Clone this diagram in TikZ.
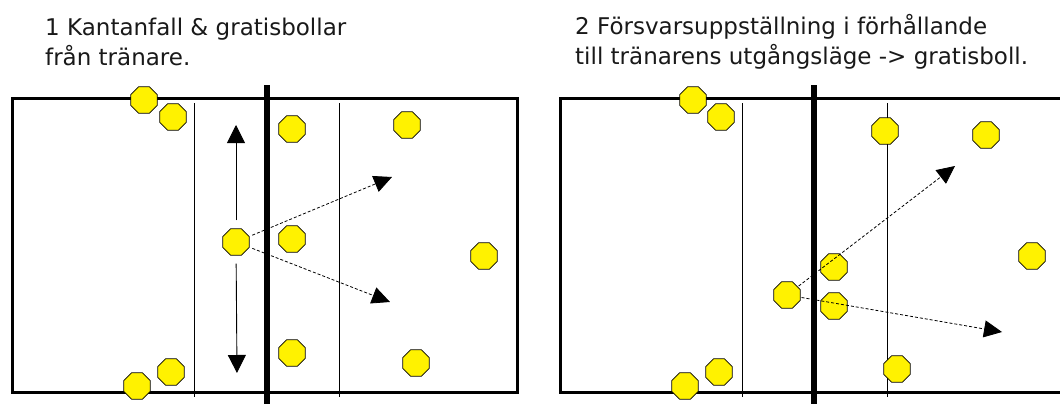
\documentclass[tikz,border=0pt]{standalone}
\usepackage{fontspec}
\setmainfont{DejaVu Sans}
\usetikzlibrary{shapes.geometric,arrows.meta}
\tikzset{
  player/.style={regular polygon, regular polygon sides=8, minimum size=28.5pt, inner sep=0pt,
    fill=yellow, draw=black, line width=0.8pt},
  court/.style={draw=black, line width=3pt},
  netline/.style={draw=black, line width=6pt},
  attline/.style={draw=black, line width=0.9pt},
  arr/.style={draw=black, line width=0.9pt, -{Triangle[length=18pt,width=18pt]}},
  darr/.style={draw=black, line width=0.8pt, densely dashed, -{Triangle[length=18pt,width=17pt]}},
  title/.style={anchor=base west, inner sep=0pt, font=\fontsize{23}{26}\selectfont, text=black!90}
}
\begin{document}
\begin{tikzpicture}[x=1pt,y=-1pt]
\useasboundingbox (0,0) rectangle (1060,404);
\clip (0,0) rectangle (1060,404);
\fill[white] (0,0) rectangle (1060,404);
% titles
\node[title] (t1a) at (45,36) {1 Kantanfall \& gratisbollar};
\node[title] (t1b) at (45,66) {från tränare.};
\node[title] (t2a) at (575,35) {2 Försvarsuppställning i förhållande};
\node[title] (t2b) at (575,65) {till tränarens utgångsläge -> gratisboll.};
% court 1
\draw[court] (12,98) rectangle (517,392);
\draw[attline] (194,103) -- (194,397);
\draw[attline] (339,103) -- (339,397);
\draw[netline] (267,85) -- (267,404);
% court 2
\draw[court] (560,98) rectangle (1080,392);
\draw[attline] (742,103) -- (742,397);
\draw[attline] (887,103) -- (887,397);
\draw[netline] (814,85) -- (814,404);
% players court 1
\node[player] (a1) at (144,100) {};
\node[player] (a2) at (173,117) {};
\node[player] (a3) at (292,129) {};
\node[player] (a4) at (407,125) {};
\node[player] (c1) at (236,242) {};
\node[player] (a5) at (292,239) {};
\node[player] (a6) at (484,256) {};
\node[player] (a7) at (292,353) {};
\node[player] (a8) at (416,363) {};
\node[player] (a9) at (171,372) {};
\node[player] (a10) at (137,386) {};
% players court 2
\node[player] (b1) at (693,100) {};
\node[player] (b2) at (721,117) {};
\node[player] (b3) at (885,131) {};
\node[player] (b4) at (986,135) {};
\node[player] (b5) at (1032,256) {};
\node[player] (b6) at (834,267) {};
\node[player] (c2) at (787,295) {};
\node[player] (b7) at (834,306) {};
\node[player] (b8) at (897,369) {};
\node[player] (b9) at (719,372) {};
\node[player] (b10) at (685,386) {};
% arrow targets
\coordinate (u1) at (236,125);
\coordinate (d1) at (237,373);
\coordinate (r1) at (392,177);
\coordinate (s1) at (390,302);
\coordinate (r2) at (955,166);
\coordinate (s2) at (1002,332);
% arrows
\draw[arr, shorten <=8pt] (c1) -- (u1);
\draw[arr, shorten <=8pt] (c1) -- (d1);
\draw[darr, shorten <=3pt] (c1) -- (r1);
\draw[darr, shorten <=3pt] (c1) -- (s1);
\draw[darr, shorten <=1pt] (c2) -- (r2);
\draw[darr, shorten <=1pt] (c2) -- (s2);
\end{tikzpicture}
\end{document}
